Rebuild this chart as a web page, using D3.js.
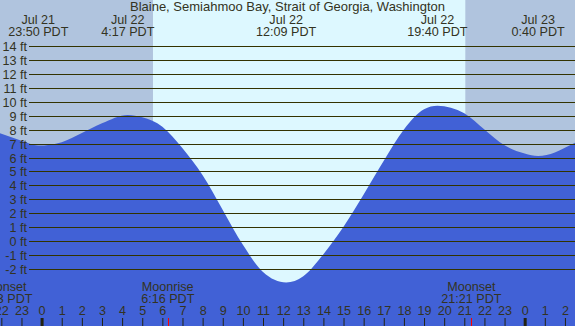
<!DOCTYPE html>
<html>
<head>
<meta charset="utf-8">
<script src="https://cdn.jsdelivr.net/npm/d3@7"></script>
<style>
  body { margin: 0; background: #fff; }
  svg { display: block; }
  text { font-family: "Liberation Sans", Arial, sans-serif; font-size: 12.6px; fill: #333322; }
</style>
</head>
<body>
<div id="chart"></div>
<script>
const WIDTH = 575;
const HEIGHT = 326;
const GRID_LEFT = 29;

const TITLE = 'Blaine, Semiahmoo Bay, Strait of Georgia, Washington';

// tide height readings (ft) off the curve
const tideTimes = [
  'Jul 21 21:56', 'Jul 21 23:00', 'Jul 21 23:50', 'Jul 22 01:00', 'Jul 22 02:00',
  'Jul 22 03:00', 'Jul 22 04:17', 'Jul 22 05:00', 'Jul 22 06:00', 'Jul 22 07:00',
  'Jul 22 08:00', 'Jul 22 09:00', 'Jul 22 10:00', 'Jul 22 11:00', 'Jul 22 12:09',
  'Jul 22 13:00', 'Jul 22 14:00', 'Jul 22 15:00', 'Jul 22 16:00', 'Jul 22 17:00',
  'Jul 22 18:00', 'Jul 22 19:00', 'Jul 22 19:40', 'Jul 22 21:00', 'Jul 22 22:00',
  'Jul 22 23:00', 'Jul 23 00:00', 'Jul 23 00:40', 'Jul 23 01:30', 'Jul 23 02:00',
  'Jul 23 02:30'
];
const tideFeet = [
  7.73, 7.2, 6.85, 7.1, 7.75,
  8.45, 9.05, 8.88, 8.2, 6.66,
  4.73, 2.25, -0.25, -2.2, -2.95,
  -2.5, -0.92, 1.04, 3.35, 5.76,
  8.0, 9.45, 9.7, 9.16, 8.0,
  6.87, 6.28, 6.1, 6.36, 6.7,
  7.05
];

// high / low labels along the top
const extremeDays = ['Jul 21', 'Jul 22', 'Jul 22', 'Jul 22', 'Jul 23'];
const extremeClock = ['23:50', '4:17', '12:09', '19:40', '0:40'];

// moon events along the bottom
const moonNames = ['Moonset', 'Moonrise', 'Moonset'];
const moonDays = ['Jul 21', 'Jul 22', 'Jul 22'];
const moonClock = ['22:03', '6:16', '21:21'];
const moonText = ['20:53', '6:16', '21:21'];

// daylight window
const sunrise = 'Jul 22 05:32';
const sunset = 'Jul 22 21:03';
const viewStart = 'Jul 21 21:56';
const viewEnd = 'Jul 23 02:30';

const yTicks = d3.range(-2, 15);

const parse = d3.timeParse('%b %d %H:%M');
let svg, xScale, yScale;

function buildScales() {
  xScale = d3.scaleTime()
    .domain([parse(viewStart), parse(viewEnd)])
    .range([0, WIDTH]);

  yScale = d3.scaleLinear()
    .domain([-2, 14])
    .range([269.3, 45.7]);
}

function drawBackground() {
  const bg = svg.append('g').attr('class', 'bg');
  bg.append('rect')
    .attr('width', WIDTH)
    .attr('height', HEIGHT)
    .attr('fill', '#b0c4de');

  const x0 = xScale(parse(sunrise));
  const x1 = xScale(parse(sunset));
  bg.append('rect')
    .attr('x', x0)
    .attr('width', x1 - x0)
    .attr('height', HEIGHT)
    .attr('fill', '#ddf8ff');
}

function drawTide() {
  const data = tideTimes.map((t, i) => ({date: parse(t), ft: tideFeet[i]}));

  const area = d3.area()
    .x((d) => xScale(d.date))
    .y0(HEIGHT)
    .y1((d) => yScale(d.ft))
    .curve(d3.curveMonotoneX);

  svg.append('path')
    .datum(data)
    .attr('d', area)
    .attr('fill', '#4161d6');
}

function drawGrid() {
  const g = svg.append('g').attr('class', 'grid');

  g.selectAll('line')
    .data(yTicks)
    .enter()
    .append('line')
    .attr('x1', GRID_LEFT)
    .attr('x2', WIDTH)
    .attr('y1', (d) => Math.round(yScale(d)) + 0.5)
    .attr('y2', (d) => Math.round(yScale(d)) + 0.5)
    .attr('stroke', '#333300')
    .attr('stroke-width', 1);

  g.selectAll('text')
    .data(yTicks)
    .enter()
    .append('text')
    .attr('x', 27)
    .attr('y', (d) => Math.round(yScale(d)) + 4.5)
    .attr('text-anchor', 'end')
    .text((d) => `${d} ft`);
}

function drawLabels() {
  svg.append('text')
    .attr('x', WIDTH / 2)
    .attr('y', 11)
    .attr('text-anchor', 'middle')
    .style('font-size', '13px')
    .text(TITLE);

  const top = svg.append('g').attr('class', 'extremes');
  extremeDays.forEach((day, i) => {
    const x = xScale(parse(`${day} ${extremeClock[i]}`));
    top.append('text')
      .attr('x', x).attr('y', 24)
      .attr('text-anchor', 'middle')
      .text(day);
    top.append('text')
      .attr('x', x).attr('y', 35.5)
      .attr('text-anchor', 'middle')
      .text(`${extremeClock[i]} PDT`);
  });

  const moon = svg.append('g').attr('class', 'moon');
  moonNames.forEach((name, i) => {
    const x = xScale(parse(`${moonDays[i]} ${moonClock[i]}`));
    moon.append('text')
      .attr('x', x).attr('y', 291)
      .attr('text-anchor', 'middle')
      .text(name);
    moon.append('text')
      .attr('x', x).attr('y', 303)
      .attr('text-anchor', 'middle')
      .text(`${moonText[i]} PDT`);
    if (i > 0) {
      moon.append('line')
        .attr('x1', Math.round(x) + 0.5).attr('x2', Math.round(x) + 0.5)
        .attr('y1', HEIGHT - 8).attr('y2', HEIGHT)
        .attr('stroke', 'red');
    }
  });
}

function drawHourAxis() {
  const axis = d3.axisTop(xScale)
    .ticks(d3.timeHour.every(1))
    .tickFormat(d3.timeFormat('%-H'))
    .tickSize(8)
    .tickSizeOuter(0);

  const g = svg.append('g')
    .attr('class', 'hours')
    .attr('transform', `translate(0, ${HEIGHT})`)
    .call(axis);

  g.select('.domain').remove();
  g.selectAll('.tick text')
    .attr('fill', '#333322')
    .style('font-size', '12.6px')
    .style('font-family', '"Liberation Sans", Arial, sans-serif');
  g.selectAll('.tick line')
    .attr('stroke', '#222211')
    .attr('stroke-width', (d) => d.getHours() === 0 ? 3 : 1);
}

function buildChart(selector) {
  svg = d3.select(selector).append('svg')
    .attr('width', WIDTH)
    .attr('height', HEIGHT);

  buildScales();
  drawBackground();
  drawTide();
  drawGrid();
  drawLabels();
  drawHourAxis();
}

buildChart('#chart');
</script>
</body>
</html>
